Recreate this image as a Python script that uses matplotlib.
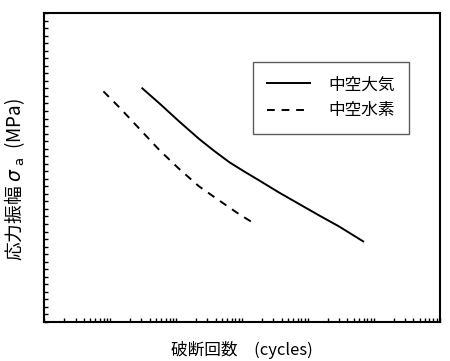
import numpy as np
import matplotlib
matplotlib.use("Agg")
import matplotlib.pyplot as plt
from matplotlib.ticker import LogLocator, MultipleLocator, NullFormatter

plt.rcParams['font.family'] = ['Noto Sans CJK JP', 'DejaVu Sans']
plt.rcParams['mathtext.fontset'] = 'dejavusans'

# Data (log10 cycles, stress amplitude)
air_logN = [4.49, 4.75, 5.05, 5.35, 5.58, 5.81, 6.03, 6.26, 6.56, 6.86, 7.16, 7.47, 7.84]
air_sigma = [310, 290, 266, 243, 227, 212, 200, 188, 172, 157, 142, 127, 107]
h2_logN = [3.90, 4.15, 4.45, 4.75, 5.05, 5.35, 5.66, 5.96, 6.20]
h2_sigma = [306, 284, 256, 228, 203, 180, 161, 143, 130]
labels = ['中空大気', '中空水素']

fig = plt.figure(figsize=(4.5, 3.61), dpi=100)
ax = fig.add_axes([0.098, 0.108, 0.879, 0.856])

ax.plot(10 ** np.array(air_logN), air_sigma, color='black', lw=1.4, ls='-', label=labels[0])
ax.plot(10 ** np.array(h2_logN), h2_sigma, color='black', lw=1.4, ls=(0, (4, 3.5)), label=labels[1])

ax.set_xscale('log')
ax.set_xlim(1e3, 1e9)
ax.set_ylim(0, 410)
ax.xaxis.set_major_locator(LogLocator(base=10, numticks=20))
ax.xaxis.set_minor_locator(LogLocator(base=10, subs=np.arange(2, 10), numticks=100))
ax.xaxis.set_major_formatter(NullFormatter())
ax.xaxis.set_minor_formatter(NullFormatter())
ax.yaxis.set_major_locator(MultipleLocator(10))
ax.yaxis.set_major_formatter(NullFormatter())
ax.tick_params(axis='both', which='both', direction='in', width=1.0, length=3,
               top=False, right=False)
for s in ax.spines.values():
    s.set_linewidth(1.5)

ax.set_xlabel('破断回数　(cycles)', fontsize=12, labelpad=10)
ax.set_ylabel(r'応力振幅 $\sigma_{\ \rm a}$  (MPa)', fontsize=13.5)
ax.yaxis.set_label_coords(-0.043, 0.46)

leg = ax.legend(loc='upper left', bbox_to_anchor=(0.528, 0.841), fontsize=12,
                frameon=True, fancybox=False, edgecolor='#333333', handlelength=2.6,
                handletextpad=1.1, borderpad=0.85, labelspacing=0.55,
                borderaxespad=0)
leg.get_frame().set_linewidth(1.0)

fig.savefig('out.png', dpi=100)
